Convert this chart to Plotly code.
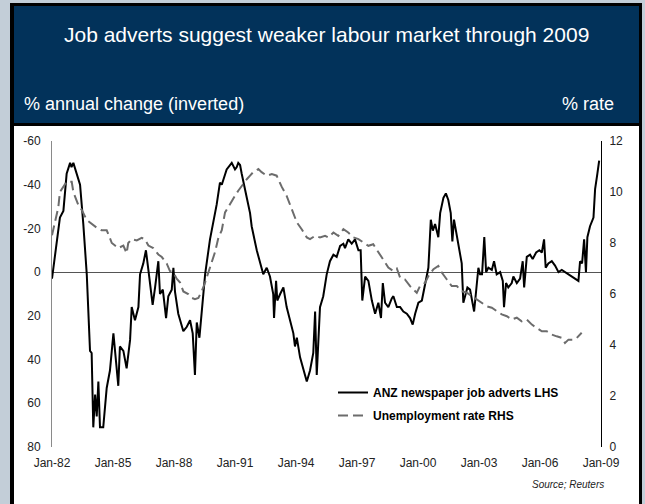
import plotly.graph_objects as go

# ---------------- data ----------------
adverts_year = [1982.00, 1982.23, 1982.39, 1982.56, 1982.72, 1982.89, 1982.96, 1983.05, 1983.21, 1983.38,
                1983.54, 1983.71, 1983.87, 1983.95, 1984.03, 1984.12, 1984.20, 1984.28, 1984.36, 1984.52,
                1984.69, 1984.85, 1985.02, 1985.10, 1985.26, 1985.34, 1985.51, 1985.67, 1985.84, 1985.92,
                1986.08, 1986.25, 1986.33, 1986.49, 1986.62, 1986.74, 1986.95, 1987.07, 1987.23, 1987.31,
                1987.45, 1987.61, 1987.72, 1987.89, 1987.97, 1988.05, 1988.21, 1988.46, 1988.63, 1988.79,
                1988.92, 1989.03, 1989.12, 1989.25, 1989.36, 1989.53, 1989.77, 1989.93, 1990.10, 1990.26,
                1990.35, 1990.59, 1990.84, 1991.00, 1991.08, 1991.16, 1991.25, 1991.33, 1991.41, 1991.58,
                1991.74, 1991.82, 1992.07, 1992.23, 1992.39, 1992.56, 1992.72, 1992.88, 1992.92, 1993.02,
                1993.08, 1993.22, 1993.38, 1993.54, 1993.71, 1993.87, 1993.95, 1994.04, 1994.20, 1994.36,
                1994.53, 1994.69, 1994.85, 1994.94, 1995.02, 1995.18, 1995.34, 1995.51, 1995.67, 1995.84,
                1996.00, 1996.17, 1996.33, 1996.41, 1996.57, 1996.74, 1996.90, 1997.07, 1997.18, 1997.26,
                1997.40, 1997.56, 1997.73, 1997.89, 1998.05, 1998.18, 1998.27, 1998.38, 1998.54, 1998.71,
                1998.79, 1998.96, 1999.12, 1999.28, 1999.45, 1999.61, 1999.74, 1999.86, 2000.02, 2000.19,
                2000.35, 2000.51, 2000.63, 2000.73, 2000.84, 2001.00, 2001.09, 2001.25, 2001.37, 2001.49,
                2001.61, 2001.69, 2001.77, 2001.99, 2002.15, 2002.23, 2002.43, 2002.56, 2002.76, 2002.97,
                2003.05, 2003.15, 2003.26, 2003.35, 2003.46, 2003.63, 2003.74, 2003.87, 2004.04, 2004.17,
                2004.23, 2004.33, 2004.44, 2004.61, 2004.69, 2004.86, 2005.02, 2005.15, 2005.22, 2005.35,
                2005.51, 2005.64, 2005.81, 2005.97, 2006.09, 2006.20, 2006.28, 2006.41, 2006.58, 2006.74,
                2006.91, 2007.07, 2007.23, 2007.40, 2007.56, 2007.73, 2007.89, 2007.97, 2008.07, 2008.17,
                2008.26, 2008.33, 2008.46, 2008.63, 2008.71, 2008.82, 2008.91]
adverts_val = [3, -13, -25, -28, -45, -50, -48, -50, -45, -40,
               -22, 1, 36, 37, 71, 56, 66, 50, 71, 71,
               53, 45, 28, 36, 52, 34, 36, 44, 31, 16,
               22, 16, 1, -4, -10, -1, 15, 7, -5, 10,
               8, 21, 11, 8, -2, 9, 19, 27, 25, 22,
               28, 47, 23, 30, 19, 1, -15, -22, -31, -41,
               -40, -47, -50, -47, -48, -50, -49, -45, -41, -34,
               -27, -21, -10, -4, 1, -2, 2, 10, 21, 4,
               13, 10, 7, 16, 22, 28, 34, 30, 39, 44,
               50, 45, 37, 18, 47, 16, 11, 1, -5, -8,
               -7, -12, -13, -11, -15, -13, -15, -10, -10, 13,
               2, 4, 13, 19, 14, 21, 5, 14, 16, 12,
               11, 16, 16, 18, 19, 21, 24, 19, 14, 13,
               5, -2, -24, -19, -22, -16, -27, -34, -36, -33,
               -27, -14, -24, -13, -4, 14, 7, 8, 18, -2,
               1, 1, -16, 0, -2, -1, -5, 1, 0, 4,
               16, 5, 7, 5, 2, 5, 3, -5, 7, -7,
               -8, -6, -9, -10, -9, -15, -2, -4, -5, -3,
               0, -1, 0, 1, 2, 3, 4, -5, -4, -15,
               0, -16, -21, -25, -38, -45, -51]

unemp_year = [1982.00, 1982.31, 1982.39, 1982.56, 1982.72, 1982.97, 1983.05, 1983.29, 1983.46, 1983.71,
              1983.87, 1984.20, 1984.44, 1984.69, 1984.77, 1984.94, 1985.10, 1985.26, 1985.51, 1985.67,
              1985.75, 1985.92, 1986.17, 1986.41, 1986.57, 1986.74, 1986.98, 1987.23, 1987.40, 1987.64,
              1987.80, 1987.97, 1988.13, 1988.30, 1988.46, 1988.70, 1988.87, 1989.03, 1989.20, 1989.36,
              1989.53, 1989.69, 1989.86, 1990.02, 1990.18, 1990.35, 1990.51, 1990.76, 1991.00, 1991.16,
              1991.33, 1991.58, 1991.74, 1991.90, 1992.15, 1992.31, 1992.56, 1992.81, 1993.05, 1993.30,
              1993.54, 1993.79, 1994.04, 1994.28, 1994.53, 1994.69, 1994.94, 1995.18, 1995.43, 1995.59,
              1995.84, 1996.08, 1996.33, 1996.57, 1996.82, 1997.07, 1997.31, 1997.56, 1997.80, 1998.05,
              1998.30, 1998.54, 1998.79, 1998.96, 1999.12, 1999.36, 1999.61, 1999.77, 1999.94, 2000.10,
              2000.35, 2000.51, 2000.76, 2001.00, 2001.17, 2001.42, 2001.66, 2001.91, 2002.15, 2002.40,
              2002.64, 2002.89, 2003.14, 2003.38, 2003.63, 2003.87, 2004.12, 2004.37, 2004.61, 2004.86,
              2005.10, 2005.35, 2005.60, 2005.84, 2006.09, 2006.33, 2006.58, 2006.82, 2007.07, 2007.23,
              2007.40, 2007.64, 2007.81, 2008.05]
unemp_val = [8.3, 9.4, 10.0, 10.2, 10.4, 10.4, 10.0, 9.5, 9.3, 8.9,
             8.8, 8.6, 8.5, 8.5, 8.35, 8.0, 7.9, 7.8, 7.9, 7.6,
             8.0, 8.15, 8.1, 8.2, 8.15, 7.9, 7.8, 7.55, 7.45, 7.2,
             6.9, 6.85, 6.6, 6.45, 6.1, 6.0, 5.85, 5.8, 5.85, 6.1,
             6.45, 6.85, 7.2, 7.65, 8.2, 8.5, 9.2, 9.55, 9.85, 10.05,
             10.25, 10.5, 10.64, 10.78, 10.9, 10.78, 10.64, 10.7, 10.64, 10.2,
             9.85, 9.33, 8.81, 8.54, 8.22, 8.15, 8.28, 8.22, 8.28, 8.22,
             8.41, 8.28, 8.54, 8.41, 8.22, 8.15, 8.02, 7.89, 7.95, 7.63,
             7.36, 7.04, 6.9, 7.0, 6.64, 6.57, 6.31, 6.18, 6.05, 6.31,
             6.44, 6.7, 6.97, 7.1, 6.84, 6.57, 6.31, 6.31, 6.11, 6.05,
             5.92, 5.79, 5.66, 5.52, 5.46, 5.33, 5.2, 5.13, 5.0, 5.07,
             4.93, 5.0, 4.8, 4.67, 4.54, 4.54, 4.41, 4.34, 4.28, 4.08,
             4.21, 4.21, 4.28, 4.48]

x_tick_vals = [1982, 1985, 1988, 1991, 1994, 1997, 2000, 2003, 2006, 2009]
x_tick_text = ["Jan-82", "Jan-85", "Jan-88", "Jan-91", "Jan-94", "Jan-97",
               "Jan-00", "Jan-03", "Jan-06", "Jan-09"]
left_ticks = [-60, -40, -20, 0, 20, 40, 60, 80]
left_tick_text = ["-60", "-40", "-20", "0", "20", "40", "60", "80"]
right_ticks = [0, 2, 4, 6, 8, 10, 12]

title_text = "Job adverts suggest weaker labour market through 2009"
left_label = "% annual change (inverted)"
right_label = "% rate"
source_text = "Source; Reuters"
name_adverts = "ANZ newspaper job adverts LHS"
name_unemp = "Unemployment rate RHS"

# ---------------- layout geometry ----------------
W, H = 645, 504
L, R, T, B = 52, 601, 141, 447
PW, PH = R - L, B - T


def px(x):
    return (x - L) / PW


def py(y):
    return (B - y) / PH


FONT = "Liberation Sans, Arial, sans-serif"
NAVY = "#02325a"

fig = go.Figure()
fig.add_trace(go.Scatter(
    x=adverts_year, y=adverts_val, mode="lines", name=name_adverts,
    legendgroup="a", line=dict(color="black", width=2), yaxis="y"))
fig.add_trace(go.Scatter(
    x=unemp_year, y=unemp_val, mode="lines", name=name_unemp,
    legendgroup="b", line=dict(color="#6c6c6c", width=2, dash="10px,5px"), yaxis="y2"))

shapes = [
    dict(type="rect", xref="paper", yref="paper", x0=px(10), x1=px(642), y0=py(3), y1=py(510),
         fillcolor="black", line=dict(width=0), layer="below"),
    dict(type="rect", xref="paper", yref="paper", x0=px(14), x1=px(639), y0=py(6), y1=py(123),
         fillcolor=NAVY, line=dict(width=0), layer="below"),
    dict(type="rect", xref="paper", yref="paper", x0=px(14), x1=px(639), y0=py(126), y1=py(510),
         fillcolor="white", line=dict(width=0), layer="below"),
]

annotations = [
    dict(text=title_text, xref="paper", yref="paper", x=px(326), y=py(35), xanchor="center",
         yanchor="middle", showarrow=False, font=dict(family=FONT, size=21, color="white")),
    dict(text=left_label, xref="paper", yref="paper", x=px(22), y=py(104), xanchor="left",
         yanchor="middle", showarrow=False, font=dict(family=FONT, size=18, color="white")),
    dict(text=right_label, xref="paper", yref="paper", x=px(616), y=py(104), xanchor="right",
         yanchor="middle", showarrow=False, font=dict(family=FONT, size=18, color="white")),
    dict(text="<i>" + source_text + "</i>", xref="paper", yref="paper", x=px(606), y=py(484),
         xanchor="right", yanchor="middle", showarrow=False,
         font=dict(family=FONT, size=10, color="#222")),
]

fig.update_layout(
    width=W, height=H,
    margin=dict(l=L, r=W - R, t=T, b=H - B, pad=0),
    paper_bgcolor="#c3ced8",
    plot_bgcolor="rgba(0,0,0,0)",
    shapes=shapes,
    annotations=annotations,
    showlegend=True,
    legend=dict(x=px(333), y=py(378), xanchor="left", yanchor="top",
                bgcolor="rgba(0,0,0,0)", tracegroupgap=4,
                font=dict(family=FONT, size=12, color="black", weight="bold")),
    xaxis=dict(range=[1982, 2009], tickmode="array", tickvals=x_tick_vals, ticktext=x_tick_text,
               showgrid=False, zeroline=False, showline=False, ticks="",
               tickfont=dict(family=FONT, size=12, color="#222"), ticklabelstandoff=7),
    yaxis=dict(range=[80, -60], tickmode="array", tickvals=left_ticks, ticktext=left_tick_text,
               showgrid=False, zeroline=True, zerolinecolor="#555", zerolinewidth=1,
               showline=True, linecolor="#8a8a8a", linewidth=1, ticks="",
               tickfont=dict(family=FONT, size=12, color="#222"), ticklabelstandoff=8),
    yaxis2=dict(range=[0, 12], tickmode="array", tickvals=right_ticks, overlaying="y",
                side="right", showgrid=False, zeroline=False, showline=True,
                linecolor="black", linewidth=1, ticks="",
                tickfont=dict(family=FONT, size=12, color="#222"), ticklabelstandoff=5),
)

fig.write_html("out.html")
